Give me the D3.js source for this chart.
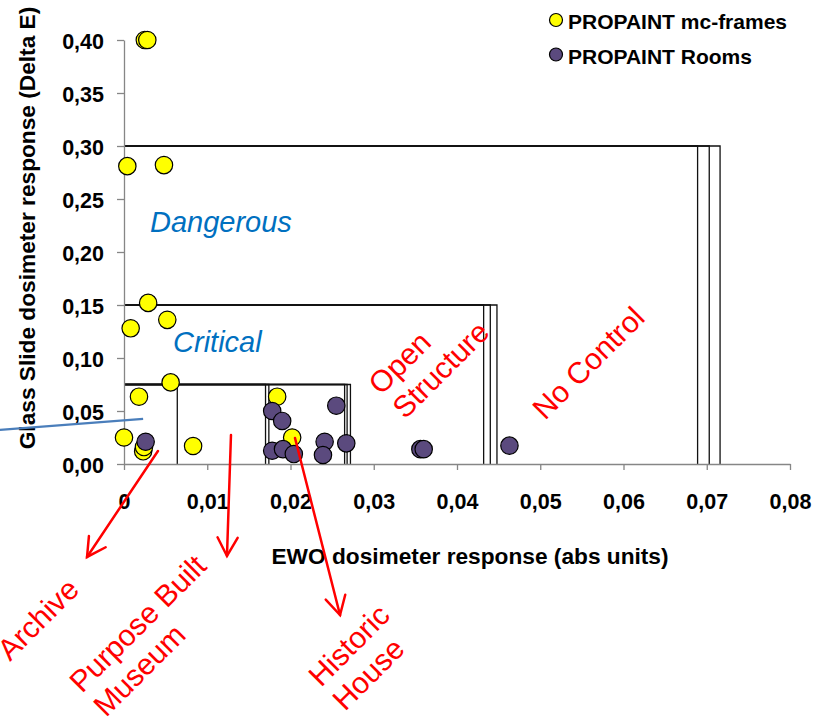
<!DOCTYPE html>
<html><head><meta charset="utf-8">
<script src="https://cdn.jsdelivr.net/npm/d3@7"></script>
<style>
html,body{margin:0;padding:0;background:#fff;}
text{font-family:"Liberation Sans",Arial,sans-serif;}
</style></head>
<body>
<svg id="chart" width="813" height="717"></svg>
<script>
// ---- data ----
const xTicks = [0, 0.01, 0.02, 0.03, 0.04, 0.05, 0.06, 0.07, 0.08];
const xTickLabels = ["0", "0,01", "0,02", "0,03", "0,04", "0,05", "0,06", "0,07", "0,08"];
const yTicks = [0, 0.05, 0.10, 0.15, 0.20, 0.25, 0.30, 0.35, 0.40];
const yTickLabels = ["0,00", "0,05", "0,10", "0,15", "0,20", "0,25", "0,30", "0,35", "0,40"];

const seriesNames = ["PROPAINT mc-frames", "PROPAINT Rooms"];
const seriesColors = ["#ffff00", "#5b4a7e"];

// PROPAINT mc-frames: [EWO, Delta E]
const mcFrames = [
  [0.0025, 0.400], [0.0028, 0.400], [0.0004, 0.281], [0.0048, 0.282],
  [0.0029, 0.152], [0.0008, 0.128], [0.0052, 0.136], [0.0056, 0.077],
  [0.0018, 0.0635], [0.0000, 0.025], [0.0023, 0.012], [0.0024, 0.016],
  [0.0083, 0.017], [0.0184, 0.0635], [0.0202, 0.025]
];
// PROPAINT Rooms
const rooms = [
  [0.0026, 0.021], [0.0178, 0.050], [0.0190, 0.0406], [0.0178, 0.0125],
  [0.0191, 0.014], [0.0204, 0.0094], [0.0241, 0.021], [0.0239, 0.0085],
  [0.0255, 0.055], [0.0267, 0.0195], [0.0356, 0.014], [0.0360, 0.014],
  [0.0463, 0.0173]
];

// classification boxes: [EWO limit, Delta E limit]
const boxes = [
  [0.0064, 0.075],
  [0.0170, 0.075], [0.0174, 0.075],
  [0.0265, 0.075], [0.0268, 0.075], [0.0272, 0.075],
  [0.0432, 0.15], [0.0440, 0.15], [0.0448, 0.15],
  [0.0689, 0.30], [0.0703, 0.30], [0.0716, 0.30]
];

// zone labels (data coords of text start)
const blueLabels = [
  {text: "Dangerous", x: 0.00312, y: 0.2189},
  {text: "Critical", x: 0.00589, y: 0.1057}
];
const redLabels = [
  {lines: ["Open", "Structure"], x: 0.03087, y: 0.0641},
  {lines: ["No Control"], x: 0.05057, y: 0.0406},
  {lines: ["Archive"], x: -0.01369, y: -0.1868},
  {lines: ["Purpose Built", "Museum"], x: -0.00505, y: -0.2170},
  {lines: ["Historic", "House"], x: 0.02366, y: -0.2113}
];
// arrows: from [x,y] to [x,y] (data coords)
const arrows = [
  [[0.00408, 0.0123], [-0.00444, -0.0877]],
  [[0.01285, 0.0274], [0.01237, -0.0868]],
  [[0.02054, 0.0245], [0.02595, -0.1425]]
];
const blueLine = [[-0.0149, 0.0321], [0.0023, 0.0425]];

// ---- drawing ----
const svg = d3.select("#chart");
const x = d3.scaleLinear().domain([0, 0.08]).range([124, 790]);
const y = d3.scaleLinear().domain([0, 0.40]).range([464, 40]);

// boxes (top + right edges)
svg.append("g").selectAll("path").data(boxes).join("path")
  .attr("d", d => `M${x(0)},${y(d[1])}H${x(d[0])}V${y(0)}`)
  .attr("fill", "none").attr("stroke", "#111").attr("stroke-width", 1.3);

// axes
const gx = svg.append("g").attr("transform", `translate(0,${y(0)})`)
  .call(d3.axisBottom(x).tickValues(xTicks).tickSize(6).tickSizeOuter(0)
    .tickFormat((d, i) => xTickLabels[i]));
const gy = svg.append("g").attr("transform", `translate(${x(0)},0)`)
  .call(d3.axisLeft(y).tickValues(yTicks).tickSize(7).tickSizeOuter(0)
    .tickFormat((d, i) => yTickLabels[i]));
[gx, gy].forEach(g => {
  g.select(".domain").attr("stroke", "#868686").attr("stroke-width", 1.3);
  g.selectAll(".tick line").attr("stroke", "#868686").attr("stroke-width", 1.3);
  g.selectAll(".tick text").attr("fill", "#000").attr("font-size", 21.5)
    .attr("font-weight", "bold").attr("font-family", "Liberation Sans, Arial, sans-serif");
});
gx.selectAll(".tick text").attr("dy", 0).attr("y", 45);
gy.selectAll(".tick text").attr("dy", 0).attr("x", -20).attr("y", 8);

// axis titles
svg.append("text").attr("x", 470).attr("y", 564).attr("text-anchor", "middle")
  .attr("font-size", 22.7).attr("font-weight", "bold")
  .text("EWO dosimeter response (abs units)");
svg.append("text").attr("transform", "translate(35,228) rotate(-90)")
  .attr("text-anchor", "middle").attr("font-size", 22.7).attr("font-weight", "bold")
  .text("Glass Slide dosimeter response (Delta E)");

// blue annotation line
svg.append("line")
  .attr("x1", x(blueLine[0][0])).attr("y1", y(blueLine[0][1]))
  .attr("x2", x(blueLine[1][0])).attr("y2", y(blueLine[1][1]))
  .attr("stroke", "#4a7ebb").attr("stroke-width", 2.2);

// points
const r = 8.7;
svg.append("g").selectAll("circle").data(mcFrames).join("circle")
  .attr("cx", d => x(d[0])).attr("cy", d => y(d[1])).attr("r", r)
  .attr("fill", seriesColors[0]).attr("stroke", "#000").attr("stroke-width", 1.2);
svg.append("g").selectAll("circle").data(rooms).join("circle")
  .attr("cx", d => x(d[0])).attr("cy", d => y(d[1])).attr("r", r)
  .attr("fill", seriesColors[1]).attr("stroke", "#000").attr("stroke-width", 1.2);

// blue zone labels
svg.append("g").selectAll("text").data(blueLabels).join("text")
  .attr("x", d => x(d.x)).attr("y", d => y(d.y))
  .attr("font-size", 29).attr("font-style", "italic").attr("fill", "#0070c0")
  .text(d => d.text);

// arrows
const ag = svg.append("g").attr("stroke", "#ff0000").attr("stroke-width", 2.5)
  .attr("fill", "none").attr("stroke-linecap", "round");
arrows.forEach(a => {
  const x1 = x(a[0][0]), y1 = y(a[0][1]), x2 = x(a[1][0]), y2 = y(a[1][1]);
  const ang = Math.atan2(y2 - y1, x2 - x1);
  const L = 21, h = 0.5;
  const p1 = [x2 - L * Math.cos(ang - h), y2 - L * Math.sin(ang - h)];
  const p2 = [x2 - L * Math.cos(ang + h), y2 - L * Math.sin(ang + h)];
  ag.append("path").attr("d", `M${x1},${y1}L${x2},${y2}`);
  ag.append("path").attr("d", `M${p1[0]},${p1[1]}L${x2},${y2}L${p2[0]},${p2[1]}`)
    .attr("stroke-linejoin", "miter");
});

// red rotated labels
const rl = svg.append("g").selectAll("text").data(redLabels).join("text")
  .attr("transform", d => `translate(${x(d.x)},${y(d.y)}) rotate(-45)`)
  .attr("font-size", 30).attr("fill", "#ff0000");
rl.selectAll("tspan").data(d => d.lines).join("tspan")
  .attr("x", 0).attr("dy", (d, i) => i === 0 ? 0 : 34).text(d => d);

// legend
const lg = svg.append("g").selectAll("g").data(seriesNames).join("g")
  .attr("transform", (d, i) => `translate(556,${20 + i * 34.5})`);
lg.append("circle").attr("r", 6.5).attr("fill", (d, i) => seriesColors[i])
  .attr("stroke", "#000").attr("stroke-width", 1.2);
lg.append("text").attr("x", 12).attr("y", 9).attr("font-size", 21)
  .attr("font-weight", "bold").text(d => d);
</script>
</body></html>
